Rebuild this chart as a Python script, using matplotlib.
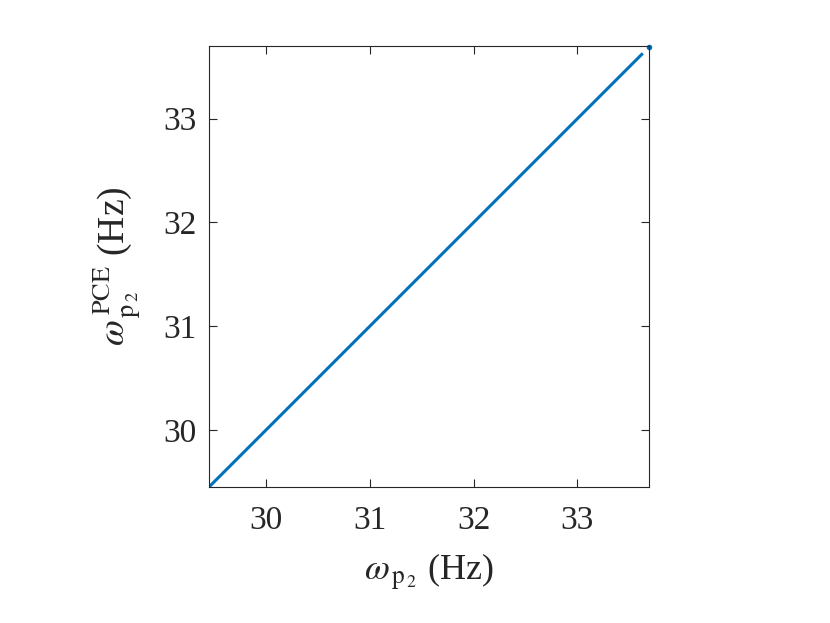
import matplotlib
matplotlib.use("Agg")
import matplotlib.pyplot as plt

plt.rcParams['font.family'] = ['Liberation Serif', 'DejaVu Serif']
plt.rcParams['mathtext.fontset'] = 'stix'

# data: reference vs PCE natural frequency (Hz)
omega_ref = [29.45, 30.0, 30.5, 31.0, 31.5, 32.0, 32.5, 33.0, 33.62]
omega_pce = [29.45, 30.0, 30.5, 31.0, 31.5, 32.0, 32.5, 33.0, 33.62]
omega_ref_end = [33.69]
omega_pce_end = [33.69]
xticks = [30, 31, 32, 33]
yticks = [30, 31, 32, 33]
xlim = (29.45, 33.69)
ylim = (29.45, 33.70)

blue = (0, 0.447, 0.741)

fig = plt.figure(figsize=(8.30, 6.23), dpi=100)
ax = fig.add_axes([0.2518, 0.2183, 0.5301, 0.7077])
ax.plot(omega_ref, omega_pce, '-', color=blue, lw=2.2)
ax.plot(omega_ref_end, omega_pce_end, '.', color=blue, ms=6, clip_on=False)
ax.set_xlim(*xlim)
ax.set_ylim(*ylim)
ax.set_xticks(xticks)
ax.set_yticks(yticks)
ax.tick_params(direction='in', length=6, width=0.8, top=True, right=True,
               labelsize=24, colors='#262626')
ax.tick_params(axis='x', pad=13)
ax.tick_params(axis='y', pad=9)
for s in ax.spines.values():
    s.set_color('#262626')
    s.set_linewidth(0.8)
ax.set_xlabel(r'$\omega_{\,\mathrm{p}_{\,2}}$ (Hz)', fontsize=26, color='#262626', labelpad=12)
ax.set_ylabel(r'$\omega_{\,\mathrm{p}_{\,2}}^{\,\mathrm{PCE}}$ (Hz)', fontsize=27, color='#262626', labelpad=14)
fig.savefig('out.png', dpi=100)
